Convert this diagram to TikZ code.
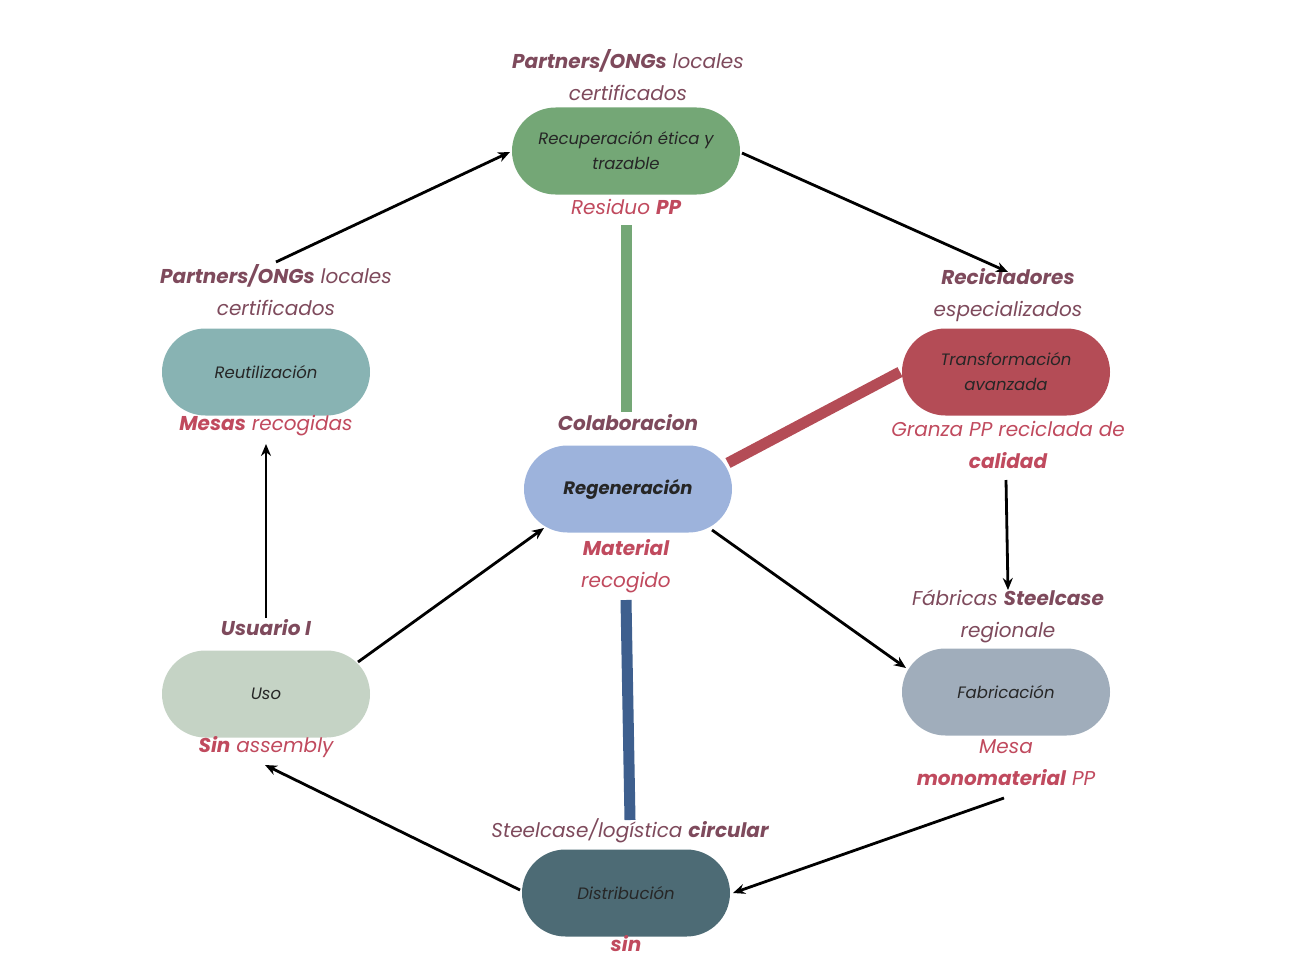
\documentclass[tikz,border=0pt]{standalone}
\usepackage{fontspec}
\setmainfont{Poppins}
\usetikzlibrary{shapes.misc,arrows.meta}
\definecolor{mauve}{HTML}{7E4A5C}
\definecolor{redl}{HTML}{C04A5E}
\definecolor{cRec}{HTML}{74A776}
\definecolor{cReu}{HTML}{88B3B3}
\definecolor{cTra}{HTML}{B44C56}
\definecolor{cReg}{HTML}{9DB3DC}
\definecolor{cUso}{HTML}{C5D3C5}
\definecolor{cFab}{HTML}{A0ADBB}
\definecolor{cDis}{HTML}{4D6B75}
\definecolor{cBlue}{HTML}{3E5F8E}
\tikzset{
 stage/.style={rounded rectangle, minimum width=212pt, minimum height=87pt, inner sep=2pt, font=\fontsize{16.5}{25}\selectfont\itshape, text=black!85, align=center},
 lab/.style={font=\fontsize{20}{32}\selectfont\itshape, align=center, inner sep=0pt},
 labm/.style={lab, text=mauve},
 labr/.style={lab, text=redl},
 arr/.style={-{Stealth[length=12pt,width=10pt]}, line width=2.8pt},
 bar/.style={line width=11pt},
}
\begin{document}
\begin{tikzpicture}[x=1pt,y=-1pt]
\useasboundingbox (0,0) rectangle (1300,955);
\node[stage,fill=cRec,minimum width=232pt] (rec) at (626,151) {Recuperación ética y\\trazable};
\node[stage,fill=cReu] (reu) at (266,372) {Reutilización};
\node[stage,fill=cTra] (tra) at (1006,372) {Transformación\\avanzada};
\node[stage,fill=cReg,font=\fontsize{18}{24}\selectfont\itshape\bfseries] (reg) at (628,489) {Regeneración};
\node[stage,fill=cUso] (uso) at (266,694) {Uso};
\node[stage,fill=cFab] (fab) at (1006,692) {Fabricación};
\node[stage,fill=cDis] (dis) at (626,893) {Distribución};

\node[labm] (l1) at (628,75) {\textbf{Partners/ONGs} locales\\certificados};
\node[labr] (l2) at (626,207) {Residuo \textbf{PP}};
\node[labm] (l3) at (276,290) {\textbf{Partners/ONGs} locales\\certificados};
\node[labr] (l4) at (266,426) {\textbf{Mesas} recogidas};
\node[labm] (l5) at (1008,295) {\textbf{Recicladores}\\especializados};
\node[labr] (l6) at (1008,445) {Granza PP reciclada de\\\textbf{calidad}};
\node[labm] (l7) at (628,423) {\textbf{Colaboracion}};
\node[labr] (l8) at (626,566) {\textbf{Material}\\recogido};
\node[labm] (l9) at (1008,616) {Fábricas \textbf{Steelcase}\\regionale};
\node[labm] (l10) at (266,628) {\textbf{Usuario I}};
\node[labr] (l11) at (266,747) {\textbf{Sin} assembly};
\node[labr] (l12) at (1006,763) {Mesa\\\textbf{monomaterial} PP};
\node[labm] (l13) at (630,831) {Steelcase/logística \textbf{circular}};
\node[labr] (l14) at (626,944) {\textbf{sin}};

\coordinate (g1) at (626,225);
\coordinate (g2) at (626,412);
\coordinate (r1) at (728,463);
\coordinate (r2) at (900,372);
\coordinate (b1) at (626,600);
\coordinate (b2) at (630,820);
\draw[bar,cRec] (g1) -- (g2);
\draw[bar,cTra] (r1) -- (r2);
\draw[bar,cBlue] (b1) -- (b2);

\coordinate (a1s) at (712,530);
\coordinate (a1e) at (906,668);
\coordinate (a2s) at (358,662);
\coordinate (a2e) at (544,528);
\coordinate (a3s) at (276,262);
\coordinate (a3e) at (510,152);
\coordinate (a4s) at (742,153);
\coordinate (a4e) at (1008,272);
\coordinate (a5s) at (1006,480);
\coordinate (a5e) at (1008,590);
\coordinate (a6s) at (266,618);
\coordinate (a6e) at (266,444);
\coordinate (a7s) at (1004,798);
\coordinate (a7e) at (733,893);
\coordinate (a8s) at (520,890);
\coordinate (a8e) at (265,765);
\draw[arr] (a3s) -- (a3e);
\draw[arr] (a4s) -- (a4e);
\draw[arr] (a5s) -- (a5e);
\draw[arr] (a1s) -- (a1e);
\draw[arr] (a2s) -- (a2e);
\draw[arr] (a6s) -- (a6e);
\draw[arr] (a7s) -- (a7e);
\draw[arr] (a8s) -- (a8e);
\end{tikzpicture}
\end{document}
